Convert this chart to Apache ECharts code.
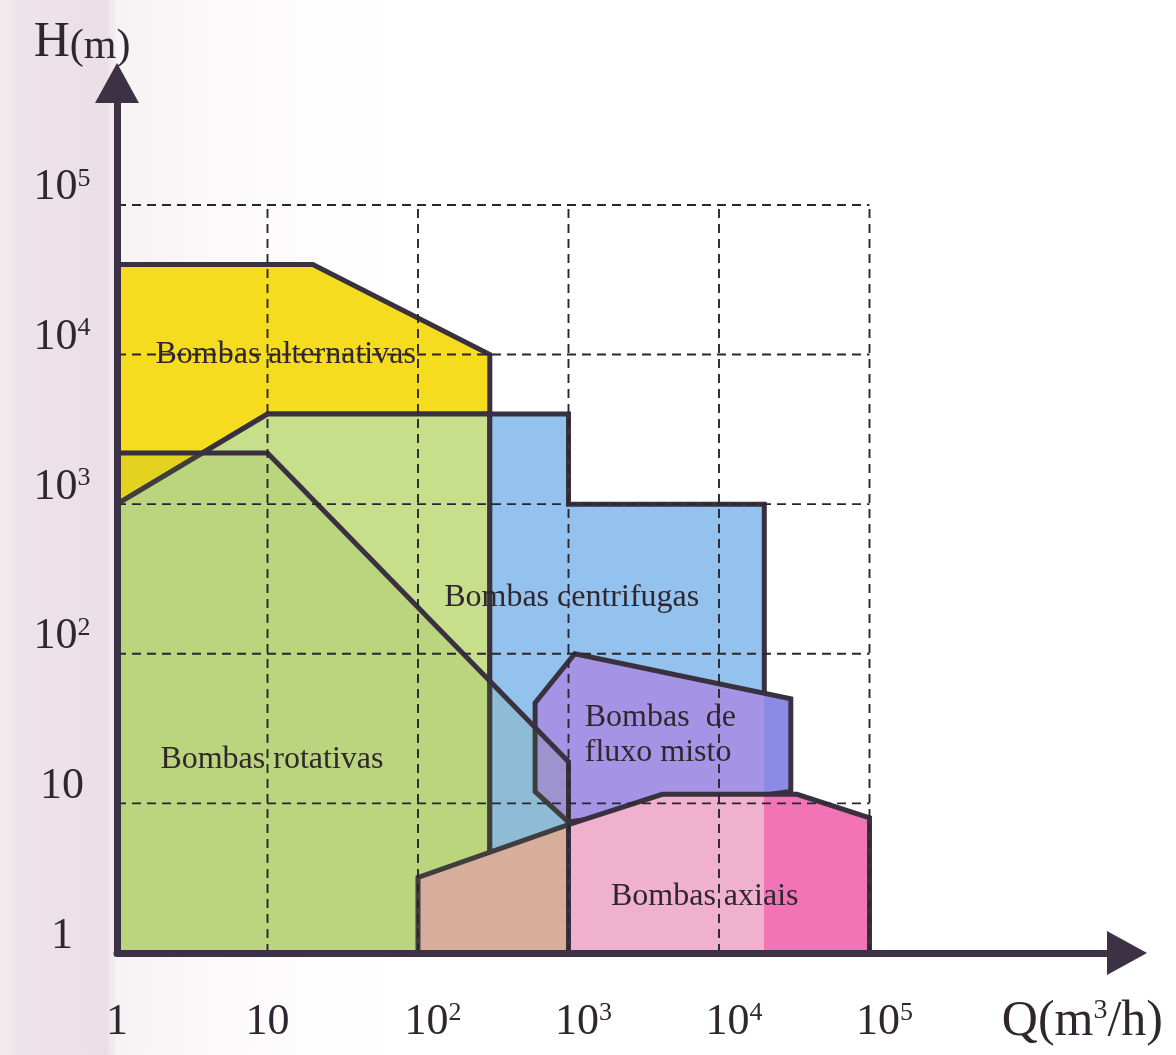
<!DOCTYPE html>
<html>
<head>
<meta charset="utf-8">
<script src="https://cdn.jsdelivr.net/npm/echarts@6/dist/echarts.min.js"></script>
<style>
html,body{margin:0;padding:0;background:#fff;}
#chart{width:1176px;height:1055px;}
</style>
</head>
<body>
<div id="chart"></div>
<script>
// ---------------- data (Q in m3/h, H in m) ----------------
const xTickValues = [1, 10, 100, 1000, 10000, 100000];
const xTickLabels = ['1', '10', '10{s|2}', '10{s|3}', '10{s|4}', '10{s|5}'];
const yTickValues = [1, 10, 100, 1000, 10000, 100000];
const yTickLabels = ['1', '10', '10{s|2}', '10{s|3}', '10{s|4}', '10{s|5}'];

const gridQ = [10, 100, 1000, 10000, 100000];
const gridH = [10, 100, 1000, 10000, 100000];

const alternativas = [[1, 40000], [20, 40000], [300, 10000], [300, 4000], [10, 4000], [1, 1000]];
const centrifugasBase = [[1, 1000], [10, 4000], [300, 4000], [300, 1], [1, 1]];
const centrifugas = [[300, 1], [300, 4000], [1000, 4000], [1000, 1000], [20000, 1000], [20000, 1]];
const rotativas = [[1, 2200], [10, 2200], [1000, 19], [1000, 1], [1, 1]];
const fluxoMisto = [[1100, 100], [30000, 50], [30000, 12], [1000, 7.5], [600, 12], [600, 47]];
const axiais = [[100, 1], [100, 3.2], [1000, 7.2], [4200, 11.5], [33000, 11.5], [100000, 8], [100000, 1]];

const labelTexts = ['Bombas alternativas', 'Bombas centrifugas', 'Bombas  de\nfluxo misto', 'Bombas rotativas', 'Bombas axiais'];
const labelQ = [13.2, 1050, 1282, 10.7, 8040];
const labelH = [10000, 236, 28.7, 19.5, 2.37];

// ---------------- styles ----------------
const FONT = '"Liberation Serif", "Times New Roman", serif';
const STROKE = '#3a3140';
const TEXT = '#2f272d';
const AXIS = '#3d3245';

const chart = echarts.init(document.getElementById('chart'), null, {renderer: 'canvas'});

function tickFormatter(values, labels, pad) {
  return function (v) {
    for (let i = 0; i < values.length; i++) {
      if (Math.abs(Math.log10(v) - Math.log10(values[i])) < 1e-6) {
        const l = labels[i];
        return (pad && l.indexOf('{s|') >= 0) ? '{g|}' + l : l;
      }
    }
    return '';
  };
}

function hardGradient(api, qMin, qMax, breaks, colors) {
  const x0 = api.coord([qMin, 1])[0];
  const x1 = api.coord([qMax, 1])[0];
  const stops = [];
  let prev = 0;
  colors.forEach(function (c, i) {
    const end = i < breaks.length ? (api.coord([breaks[i], 1])[0] - x0) / (x1 - x0) : 1;
    stops.push({offset: prev, color: c}, {offset: end, color: c});
    prev = end;
  });
  return new echarts.graphic.LinearGradient(x0, 0, x1, 0, stops, true);
}

function polygonSeries(name, pts, fill, z) {
  return {
    type: 'custom', name: name, coordinateSystem: 'cartesian2d', silent: true, z: z,
    data: pts, encode: {x: 0, y: 1},
    renderItem: function (params, api) {
      if (params.dataIndex !== 0) return null;
      const points = pts.map(function (p) { return api.coord(p); });
      return {
        type: 'polygon', shape: {points: points},
        style: {fill: typeof fill === 'function' ? fill(api) : fill, stroke: STROKE, lineWidth: 5, lineJoin: 'miter'}
      };
    }
  };
}

const gridSeries = {
  type: 'custom', name: 'grade', coordinateSystem: 'cartesian2d', silent: true, z: 8,
  data: [[1, 1]], encode: {x: 0, y: 1},
  renderItem: function (params, api) {
    const children = [];
    const lineStyle = {stroke: '#2a262e', lineWidth: 1.9, lineDash: [9, 6]};
    gridH.forEach(function (h) {
      const a = api.coord([1, h]), b = api.coord([gridQ[gridQ.length - 1], h]);
      children.push({type: 'line', shape: {x1: a[0], y1: a[1], x2: b[0], y2: b[1]}, style: lineStyle});
    });
    gridQ.forEach(function (q) {
      const a = api.coord([q, 1]), b = api.coord([q, gridH[gridH.length - 1]]);
      children.push({type: 'line', shape: {x1: a[0], y1: a[1], x2: b[0], y2: b[1]}, style: lineStyle});
    });
    return {type: 'group', children: children};
  }
};

const labelSeries = {
  type: 'custom', name: 'rótulos', coordinateSystem: 'cartesian2d', silent: true, z: 9,
  data: labelQ.map(function (q, i) { return [q, labelH[i]]; }), encode: {x: 0, y: 1},
  renderItem: function (params, api) {
    const p = api.coord([api.value(0), api.value(1)]);
    const multi = labelTexts[params.dataIndex].indexOf('\n') >= 0;
    return {
      type: 'text', x: p[0], y: p[1],
      style: {
        text: labelTexts[params.dataIndex], fontFamily: FONT, fontSize: 32, fill: TEXT,
        align: multi ? 'left' : 'center', verticalAlign: 'middle', lineHeight: 35
      }
    };
  }
};

const supRich = {
  s: {fontSize: 26, fontFamily: FONT, color: TEXT, verticalAlign: 'top'},
  g: {width: 30}
};

const option = {
  animation: false,
  backgroundColor: '#ffffff',
  graphic: [{
    type: 'rect', z: -100, silent: true,
    shape: {x: 0, y: 0, width: 1176, height: 1055},
    style: {
      fill: new echarts.graphic.LinearGradient(0, 0, 1, 0, [
        {offset: 0, color: '#f3ecef'},
        {offset: 0.02, color: '#ede3e8'},
        {offset: 0.09, color: '#eadfe4'},
        {offset: 0.1, color: '#f7f2f4'},
        {offset: 0.2, color: '#fcfafb'},
        {offset: 0.35, color: '#ffffff'},
        {offset: 1, color: '#ffffff'}
      ])
    }
  }],
  grid: {left: 117, right: 49, top: 83, bottom: 102, containLabel: false},
  xAxis: {
    type: 'log', logBase: 10, min: 1, max: Math.pow(10, 6.711), z: 10,
    axisLine: {show: true, symbol: ['none', 'triangle'], symbolSize: [44, 40], lineStyle: {color: AXIS, width: 7}},
    axisTick: {show: false}, splitLine: {show: false}, minorTick: {show: false},
    axisLabel: {
      show: true, margin: 47, fontFamily: FONT, fontSize: 44, color: TEXT,
      formatter: tickFormatter(xTickValues, xTickLabels, true), rich: supRich
    },
    name: 'Q(m{s|3}/h)', nameLocation: 'end', nameGap: 36,
    nameTextStyle: {
      fontFamily: FONT, fontSize: 50, color: TEXT, align: 'right', verticalAlign: 'top',
      padding: [44, 0, 0, 0], rich: {s: {fontSize: 28, fontFamily: FONT, color: TEXT, verticalAlign: 'top'}}
    }
  },
  yAxis: {
    type: 'log', logBase: 10, min: 1, max: Math.pow(10, 5.815), z: 10,
    axisLine: {show: true, symbol: ['none', 'triangle'], symbolSize: [44, 40], lineStyle: {color: AXIS, width: 7}},
    axisTick: {show: false}, splitLine: {show: false}, minorTick: {show: false},
    axisLabel: {
      show: true, margin: 55, align: 'center', fontFamily: FONT, fontSize: 44, color: TEXT,
      padding: [0, 0, 34, 0],
      formatter: tickFormatter(yTickValues, yTickLabels, false), rich: supRich
    },
    name: '{h|H}{m|(m)}', nameLocation: 'end', nameGap: 15,
    nameTextStyle: {
      color: TEXT, padding: [0, 70, 0, 0],
      rich: {
        h: {fontFamily: FONT, fontSize: 50, color: TEXT, verticalAlign: 'bottom'},
        m: {fontFamily: FONT, fontSize: 42, color: TEXT, verticalAlign: 'bottom'}
      }
    }
  },
  series: [
    polygonSeries('Bombas alternativas', alternativas, '#f6dc1f', 2),
    polygonSeries('centrífugas (base)', centrifugasBase, '#c7de8a', 3),
    polygonSeries('Bombas centrifugas', centrifugas, '#93c2ee', 4),
    polygonSeries('Bombas de fluxo misto', fluxoMisto, function (api) {
      return hardGradient(api, 600, 30000, [20000], ['#a594e6', '#8b8ae4']);
    }, 5),
    polygonSeries('Bombas axiais', axiais, function (api) {
      return hardGradient(api, 100, 100000, [1000, 20000], ['#e6b2ac', '#f0b1cf', '#f274b6']);
    }, 6),
    polygonSeries('Bombas rotativas', rotativas, 'rgba(110,150,50,0.13)', 7),
    gridSeries,
    labelSeries
  ]
};

chart.setOption(option);
</script>
</body>
</html>
